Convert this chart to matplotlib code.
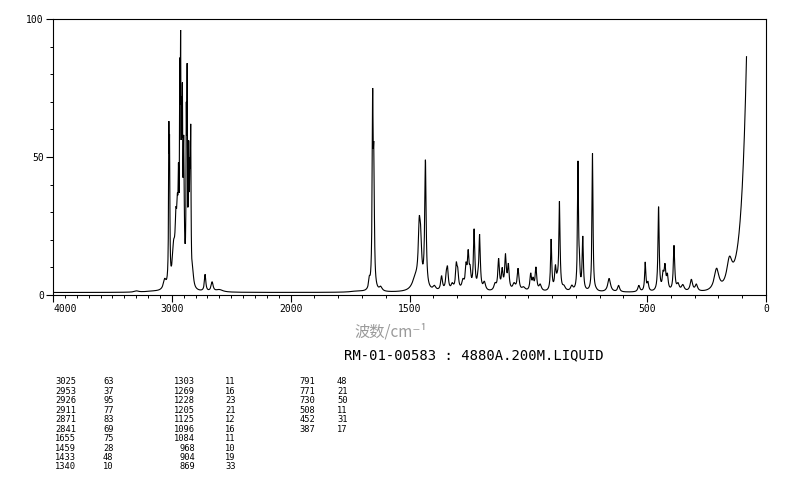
import numpy as np
import matplotlib
matplotlib.use("Agg")
import matplotlib.pyplot as plt
from matplotlib.ticker import FixedLocator, FixedFormatter, NullFormatter

# ---------------- data ----------------
# Raman bands: position (cm-1), apparent height (%), half width (cm-1)
peak_pos = [3297, 3160, 3060, 3032, 3025, 3019, 2985, 2965, 2953, 2944,
            2933, 2926, 2918, 2911, 2900, 2878, 2871, 2858, 2848, 2841,
            2825, 2720, 2661, 2600,
            1720, 1669, 1655, 1650, 1621,
            1475, 1459, 1453, 1433, 1395, 1365, 1345, 1340, 1320, 1303,
            1297, 1275, 1262, 1253, 1245, 1228, 1212, 1205, 1185, 1140,
            1125, 1110, 1096, 1084, 1060, 1043, 1020, 990, 980, 968,
            950, 904, 886, 878, 869, 850, 817, 791, 785, 771,
            730, 715, 660, 620, 535, 508, 497, 452, 433, 425,
            415, 387, 370, 350, 314, 293, 208, 154]
peak_height = [1.5, 1.5, 6, 14, 63, 58, 20, 32, 37, 48,
               86, 96, 72, 77, 58, 70, 84, 56, 50, 62,
               10, 7.5, 4.8, 2.0,
               1.5, 7, 75, 55, 3.2,
               8, 28.5, 25, 49, 3.5, 7, 9, 10.5, 4.5, 12,
               10, 6, 12, 16.5, 11, 24, 9, 22, 5, 4.5,
               13.3, 10, 15, 11.5, 4.5, 9.7, 3, 8, 6.5, 10.2,
               4, 20.3, 11, 8.5, 34, 3.6, 3.6, 48.6, 16, 21.4,
               51.3, 2.8, 6, 3.5, 3.5, 12, 5, 32, 9, 11.5,
               8, 18, 4.5, 3.8, 5.7, 4, 9.7, 14]
peak_hwhm = [20, 80, 14, 8, 3, 3, 14, 9, 6, 4,
             3, 3, 3, 3, 5, 3, 3, 4, 4, 3,
             10, 7, 10, 35,
             30, 3.5, 2.5, 2.5, 7,
             16, 5, 5, 3.5, 7, 4.5, 4, 4, 6, 4,
             4, 6, 4, 4, 4, 3.5, 4, 3.5, 6, 6,
             4, 4, 4, 4, 7, 4.5, 9, 4, 4, 4,
             6, 3, 4, 4, 3, 7, 6, 2.5, 2.5, 3,
             2.5, 6, 7, 5, 5, 3, 4, 3, 4, 4,
             4, 3.5, 6, 7, 6, 6, 12, 14]
baseline_level = 0.9
wing_start = 82        # Rayleigh wing: where the trace stops (cm-1)
wing_height = 85       # its height there (%)
wing_decay = 22        # decay length (cm-1)

# peak table printed under the chart
table_wn_1 = ["3025", "2953", "2926", "2911", "2871", "2841", "1655", "1459", "1433", "1340"]
table_i_1 = ["63", "37", "95", "77", "83", "69", "75", "28", "48", "10"]
table_wn_2 = ["1303", "1269", "1228", "1205", "1125", "1096", "1084", "968", "904", "869"]
table_i_2 = ["11", "16", "23", "21", "12", "16", "11", "10", "19", "33"]
table_wn_3 = ["791", "771", "730", "508", "452", "387"]
table_i_3 = ["48", "21", "50", "11", "31", "17"]

x_major = [4000, 3000, 2000, 1500, 500, 0]
x_major_labels = ["4000", "3000", "2000", "1500", "500", "0"]
y_major = [0, 50, 100]
y_major_labels = ["0", "50", "100"]

axis_label = "波数/cm⁻¹"
sample_label = "RM-01-00583 : 4880A.200M.LIQUID"

# ---------------- build the trace from the band list ----------------
pos = np.array(peak_pos, float)
hgt = np.array(peak_height, float)
wid = np.array(peak_hwhm, float)

def lor(x, c, w):
    return 1.0 / (1.0 + ((x - c) / w) ** 2)

def wing(x):
    return wing_height * np.exp(-(np.asarray(x, float) - wing_start) / wing_decay)

B = lor(pos[:, None], pos[None, :], wid[None, :])
target = hgt - baseline_level - wing(pos)
amp = np.clip(target.copy(), 0, None)
for _ in range(400):
    amp = np.clip(amp + 0.5 * (target - B @ amp), 0, None)

wn = np.arange(wing_start, 4000.01, 0.5)
trace = baseline_level + wing(wn) + (lor(wn[:, None], pos[None, :], wid[None, :]) @ amp)

# ---------------- figure ----------------
W, H = 794, 482
fig = plt.figure(figsize=(W / 100, H / 100), dpi=100)
fig.patch.set_facecolor("white")
ax = fig.add_axes([53 / W, 1 - 295 / H, 713 / W, 276 / H])


def fwd(x):
    x = np.asarray(x, float)
    return np.where(x > 2000, 2000 + (x - 2000) / 2.0, x)


def inv(u):
    u = np.asarray(u, float)
    return np.where(u > 2000, 2000 + 2.0 * (u - 2000), u)


ax.set_xscale("function", functions=(fwd, inv))
ax.plot(wn, trace, color="black", lw=0.8, solid_joinstyle="miter")
ax.set_xlim(4000, 0)
ax.set_ylim(0, 100)

ax.xaxis.set_major_locator(FixedLocator(x_major))
ax.xaxis.set_major_formatter(FixedFormatter(x_major_labels))
ax.xaxis.set_minor_locator(FixedLocator([v for v in range(100, 4000, 100) if v not in x_major]))
ax.xaxis.set_minor_formatter(NullFormatter())
ax.yaxis.set_major_locator(FixedLocator(y_major))
ax.yaxis.set_major_formatter(FixedFormatter(y_major_labels))
ax.yaxis.set_minor_locator(FixedLocator(list(range(10, 100, 10))))
ax.yaxis.set_minor_formatter(NullFormatter())

ax.tick_params(which="major", direction="out", length=5, width=0.8, labelsize=7, pad=1.5)
ax.tick_params(which="minor", direction="out", length=2.5, width=0.7)
for lab in ax.get_xticklabels() + ax.get_yticklabels():
    lab.set_family("DejaVu Sans Mono")
ax.get_xticklabels()[0].set_horizontalalignment("left")
for s in ax.spines.values():
    s.set_linewidth(0.8)

fig.text(391 / W, 1 - 332 / H, axis_label, ha="center", va="center",
         fontsize=11, color="#9a9a9a", family=["Noto Sans CJK SC", "DejaVu Sans"])
fig.text(344 / W, 1 - 355 / H, sample_label, ha="left", va="center",
         fontsize=10, color="black", family="DejaVu Sans Mono")

row0, dy = 382, 9.44
cols = [(table_wn_1, table_i_1, 76, 103),
        (table_wn_2, table_i_2, 195, 225),
        (table_wn_3, table_i_3, 315, 337)]
for wns, ints, xr, xl in cols:
    for k, (a, b) in enumerate(zip(wns, ints)):
        yy = 1 - (row0 + k * dy) / H
        fig.text(xr / W, yy, a, ha="right", va="center", fontsize=6.3, family="DejaVu Sans Mono")
        fig.text(xl / W, yy, b, ha="left", va="center", fontsize=6.3, family="DejaVu Sans Mono")

fig.savefig("out.png", dpi=100, facecolor="white")
